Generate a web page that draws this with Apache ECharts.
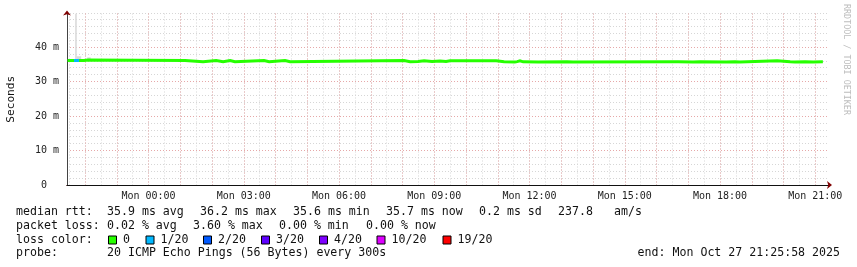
<!DOCTYPE html>
<html>
<head>
<meta charset="utf-8">
<script src="https://cdn.jsdelivr.net/npm/echarts@6/dist/echarts.min.js"></script>
<style>
html,body{margin:0;padding:0;background:#fff;}
#chart{width:857px;height:267px;}
</style>
</head>
<body>
<div id="chart"></div>
<script>
// Time axis in hours relative to Mon 00:00 (end: Mon Oct 27 21:25:58 2025, 24h window)
const xMin = -2.5672;
const xMax = 21.4328;
const yMax = 49.7; // ms

// median RTT (ms), step line breakpoints
const rttTimes = [-2.55, -2.03, -1.91, 1.15, 1.72, 2.13, 2.35, 2.57, 2.72, 3.64, 3.80, 4.30, 4.46, 8.05, 8.24, 8.30, 8.49, 8.68, 8.93, 9.18, 9.37, 9.50, 10.95, 11.20, 11.54, 11.61, 11.70, 11.80, 12.27, 13.18, 13.37, 16.68, 17.15, 17.37, 18.19, 18.47, 18.63, 18.69, 19.80, 20.21, 20.36, 20.68, 20.93, 21.24];
const rttValues = [36.05, 36.2, 36.05, 35.75, 36.05, 35.75, 36.05, 35.75, 36.05, 35.75, 36.05, 35.75, 36.05, 35.75, 36.05, 35.8, 36.0, 35.8, 35.95, 35.8, 36.0, 36.0, 35.75, 35.65, 35.75, 36.0, 35.7, 35.65, 35.7, 35.65, 35.7, 35.65, 35.7, 35.65, 35.7, 35.65, 35.8, 36.0, 35.7, 35.65, 35.7, 35.65, 35.7, 35.7];

// samples with 1/20 loss
const loss1Times = [-2.346, -2.189];
const loss1Values = [36.05, 36.05];

// smoke (ping spread) visible near the start: interval start, end, low, high (ms)
const smokeStart = [-2.31, -2.27, -1.93];
const smokeEnd = [-2.26, -2.12, -1.82];
const smokeLow = [36.3, 36.3, 36.3];
const smokeHigh = [49.6, 37.3, 37.0];

const lossNames = ['0', '1/20', '2/20', '3/20', '4/20', '10/20', '19/20'];
const lossColors = ['#26ff00', '#00b8ff', '#0059ff', '#5e00ff', '#7e00ff', '#dd00ff', '#ff0000'];

// legend text pieces
const row1Texts = ['median rtt:', '35.9 ms avg', '36.2 ms max', '35.6 ms min', '35.7 ms now', '0.2 ms sd', '237.8', 'am/s'];
const row2Texts = ['packet loss:', '0.02 % avg', '3.60 % max', '0.00 % min', '0.00 % now'];
const row3Label = 'loss color:';
const row4Texts = ['probe:', '20 ICMP Echo Pings (56 Bytes) every 300s'];
const endLine = 'end: Mon Oct 27 21:25:58 2025';
const credit = 'RRDTOOL / TOBI OETIKER';

// layout (pixel positions of legend pieces)
const row1X = [16, 107, 200, 293, 386, 479, 558, 614];
const row2X = [16, 107, 193, 279, 366];
const row4X = [16, 107];
const lossBoxX = [108, 145.5, 203, 261, 319, 376.5, 442.5];
const rowTop = [206, 219.5, 233.5, 247];

const MONO = '"DejaVu Sans Mono", monospace';
const FONT = '11.6px ' + MONO;
const minorColor = '#d6d6d6';
const majorColor = '#e6a8a8';

const pairs = (xs, ys) => xs.map((x, i) => [x, ys[i]]);

const chart = echarts.init(document.getElementById('chart'), null, {renderer: 'canvas'});

const series = [];
series.push({
  name: 'smoke', type: 'custom', xAxisIndex: 2, yAxisIndex: 1, silent: true,
  data: smokeStart.map((s, i) => [s, smokeEnd[i], smokeLow[i], smokeHigh[i]]),
  encode: {x: [0, 1], y: [2, 3]},
  renderItem: function (params, api) {
    const p0 = api.coord([api.value(0), api.value(3)]);
    const p1 = api.coord([api.value(1), api.value(2)]);
    return {type: 'rect', shape: {x: p0[0], y: p0[1], width: p1[0] - p0[0], height: p1[1] - p0[1]},
      style: {fill: '#dadada'}};
  }
});
lossNames.forEach((name, k) => {
  let data = [];
  if (k === 0) data = pairs(rttTimes, rttValues);
  if (k === 1) data = pairs(loss1Times, loss1Values);
  series.push({
    name: name, type: 'line', step: 'end', symbol: 'none',
    xAxisIndex: 2, yAxisIndex: 1,
    color: lossColors[k],
    lineStyle: {width: 3, color: lossColors[k], cap: 'butt', join: 'miter'},
    data: data
  });
});

const graphics = [];
function addText(text, x, top) {
  graphics.push({type: 'text', left: x, top: top, silent: true,
    style: {text: text, font: FONT, fill: '#111'}});
}
row1Texts.forEach((t, i) => addText(t, row1X[i], rowTop[0]));
row2Texts.forEach((t, i) => addText(t, row2X[i], rowTop[1]));
addText(row3Label, 16, rowTop[2]);
row4Texts.forEach((t, i) => addText(t, row4X[i], rowTop[3]));
graphics.push({type: 'text', right: 17, top: rowTop[3], silent: true,
  style: {text: endLine, font: FONT, fill: '#111'}});
lossNames.forEach((name, k) => {
  graphics.push({type: 'rect', silent: true,
    shape: {x: lossBoxX[k] + 0.5, y: rowTop[2] + 2.5, width: 8, height: 8},
    style: {fill: lossColors[k], stroke: '#000', lineWidth: 1}});
  addText(name, lossBoxX[k] + 15, rowTop[2]);
});
graphics.push({type: 'text', x: 850, y: 4, rotation: -Math.PI / 2, silent: true,
  style: {text: credit, font: '8.4px ' + MONO, fill: '#bdbdbd'}});

const hideLabel = {show: false};
const option = {
  animation: false,
  backgroundColor: '#ffffff',
  grid: {left: 67, right: 28, top: 13.5, bottom: 82, containLabel: false, outerBoundsMode: 'none'},
  xAxis: [
    { // minor grid every 30 min
      type: 'value', min: xMin, max: xMax, splitNumber: 48, position: 'bottom',
      axisLine: {show: false, onZero: false}, axisTick: {show: false}, axisLabel: hideLabel,
      splitLine: {show: true, showMinLine: false, showMaxLine: false,
        lineStyle: {color: minorColor, width: 1, type: [1, 2]}}
    },
    { // major grid every hour + arrow
      type: 'value', min: xMin, max: xMax, splitNumber: 24, position: 'bottom',
      axisLine: {show: true, onZero: false, symbol: ['none', 'arrow'], symbolSize: [6, 5], symbolOffset: [0, 3],
        lineStyle: {color: '#7f0000', width: 1}},
      axisTick: {show: false}, axisLabel: hideLabel,
      splitLine: {show: true, showMinLine: false, showMaxLine: false,
        lineStyle: {color: majorColor, width: 1, type: [1, 2]}}
    },
    { // labels every 3 hours
      type: 'value', min: xMin, max: xMax, splitNumber: 8, position: 'bottom',
      axisLine: {show: true, onZero: false, lineStyle: {color: '#111', width: 1}},
      axisTick: {show: false},
      splitLine: {show: false},
      axisLabel: {
        show: true, showMinLabel: false, showMaxLabel: false, margin: 6,
        color: '#222', fontFamily: MONO, fontSize: 10,
        formatter: function (v) {
          if (v < 0 || Math.abs(v - Math.round(v)) > 1e-6) return '';
          const h = Math.round(v);
          return 'Mon ' + (h < 10 ? '0' + h : '' + h) + ':00';
        }
      }
    }
  ],
  yAxis: [
    { // minor grid every 2 ms + arrow
      type: 'value', min: 0, max: yMax, splitNumber: 25, position: 'left',
      axisLine: {show: true, onZero: false, symbol: ['none', 'arrow'], symbolSize: [6, 5], symbolOffset: [0, 3],
        lineStyle: {color: '#7f0000', width: 1}},
      axisTick: {show: false}, axisLabel: hideLabel,
      splitLine: {show: true, showMinLine: false, showMaxLine: true,
        lineStyle: {color: minorColor, width: 1, type: [1, 2]}}
    },
    { // major grid every 10 ms, labels
      type: 'value', min: 0, max: yMax, splitNumber: 5, position: 'left',
      name: 'Seconds', nameLocation: 'middle', nameGap: 50, nameRotate: 90,
      nameTextStyle: {color: '#111', fontFamily: MONO, fontSize: 11.2},
      axisLine: {show: true, onZero: false, lineStyle: {color: '#444', width: 1}},
      axisTick: {show: false},
      splitLine: {show: true, showMinLine: false, showMaxLine: false,
        lineStyle: {color: majorColor, width: 1, type: [1, 2]}},
      axisLabel: {
        show: true, showMaxLabel: false, margin: 8,
        color: '#222', fontFamily: MONO, fontSize: 10,
        formatter: function (v) { return v === 0 ? '0  ' : v + ' m'; }
      }
    }
  ],
  graphic: graphics,
  series: series
};
chart.setOption(option);
</script>
</body>
</html>
